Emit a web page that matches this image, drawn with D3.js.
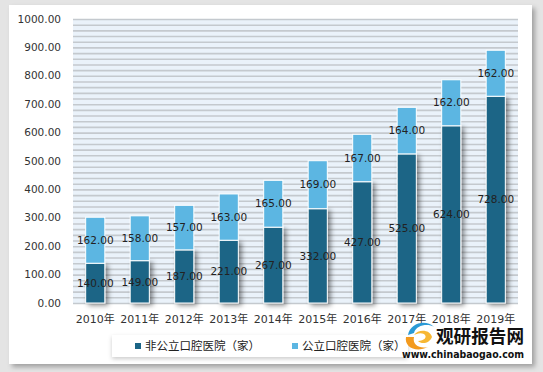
<!DOCTYPE html>
<html>
<head>
<meta charset="utf-8">
<script src="https://cdn.jsdelivr.net/npm/d3@7"></script>
<style>
  body { margin:0; padding:0; background:#fff; }
  text { font-family: "DejaVu Sans", "Noto Sans CJK SC", sans-serif; }
</style>
</head>
<body>
<div id="chart"></div>
<script>
var years = ["2010年","2011年","2012年","2013年","2014年","2015年","2016年","2017年","2018年","2019年"];
var privateVals = [140,149,187,221,267,332,427,525,624,728];
var publicVals  = [162,158,157,163,165,169,167,164,162,162];
var yTicks = [0,100,200,300,400,500,600,700,800,900,1000];
var seriesNames = ["非公立口腔医院（家）","公立口腔医院（家）"];
var colors = ["#1b6586","#5cb6e2"];

var width = 543, height = 372;

var svg = d3.select('#chart')
    .append('svg')
    .attr('width', width)
    .attr('height', height);

var defs = svg.append('defs');
var sh = defs.append('filter').attr('id','panelShadow')
    .attr('x','-5%').attr('y','-5%').attr('width','110%').attr('height','110%');
sh.append('feDropShadow').attr('dx',3).attr('dy',3).attr('stdDeviation',2.5)
    .attr('flood-color','#000').attr('flood-opacity',0.3);

var bs = defs.append('filter').attr('id','barShadow')
    .attr('x','-60%').attr('y','-20%').attr('width','220%').attr('height','140%');
bs.append('feDropShadow').attr('dx',3).attr('dy',2).attr('stdDeviation',2.5)
    .attr('flood-color','#000').attr('flood-opacity',0.45);

var ls = defs.append('filter').attr('id','legShadow')
    .attr('x','-5%').attr('y','-30%').attr('width','110%').attr('height','170%');
ls.append('feDropShadow').attr('dx',0).attr('dy',2).attr('stdDeviation',2)
    .attr('flood-color','#000').attr('flood-opacity',0.2);

// outer frame
svg.append('rect').attr('width',width).attr('height',height).attr('fill','#e4e4e4');
svg.append('rect').attr('x',9).attr('y',5).attr('width',523).attr('height',359)
    .attr('fill','#fff').attr('filter','url(#panelShadow)');

var x = d3.scaleBand()
    .domain(years)
    .range([73,518])
    .paddingInner(0.57)
    .paddingOuter(0.285);

var y = d3.scaleLinear()
    .domain([0,1000])
    .range([303,19]);

// striped plot background
svg.append('rect').attr('x',73).attr('y',y(1000)).attr('width',445).attr('height',y(0)-y(1000))
    .attr('fill','#eaf2fa');
svg.append('g').selectAll('line')
    .data(d3.range(0,1001,20))
    .enter().append('line')
    .attr('x1',73).attr('x2',518)
    .attr('y1',function(d){ return y(d) + 0.5 })
    .attr('y2',function(d){ return y(d) + 0.5 })
    .attr('stroke','#c4c9ce')
    .attr('stroke-width',1.6);

// y axis labels
svg.append('g').selectAll('text')
    .data(yTicks)
    .enter().append('text')
    .attr('x',61)
    .attr('y',function(d){ return y(d) })
    .attr('dy','0.35em')
    .attr('text-anchor','end')
    .attr('font-size','10.5px')
    .attr('fill','#333')
    .text(function(d){ return d3.format('.2f')(d) });

// bars
svg.append('g').selectAll('rect')
    .data(privateVals)
    .enter().append('rect')
    .attr('x',function(d,i){ return x(years[i]) })
    .attr('y',function(d){ return y(d) })
    .attr('width',x.bandwidth())
    .attr('height',function(d){ return y(0) - y(d) })
    .attr('fill',colors[0])
    .attr('stroke','#fff')
    .attr('stroke-width',1)
    .attr('filter','url(#barShadow)');

svg.append('g').selectAll('rect')
    .data(publicVals)
    .enter().append('rect')
    .attr('x',function(d,i){ return x(years[i]) })
    .attr('y',function(d,i){ return y(privateVals[i] + d) })
    .attr('width',x.bandwidth())
    .attr('height',function(d,i){ return y(privateVals[i]) - y(privateVals[i] + d) })
    .attr('fill',colors[1])
    .attr('stroke','#fff')
    .attr('stroke-width',1);

// value labels
svg.append('g').selectAll('text')
    .data(privateVals)
    .enter().append('text')
    .attr('x',function(d,i){ return x(years[i]) + x.bandwidth()/2 })
    .attr('y',function(d){ return y(d/2) })
    .attr('dy','0.35em')
    .attr('text-anchor','middle')
    .attr('font-size','10.5px')
    .attr('fill','#222')
    .text(function(d){ return d3.format('.2f')(d) });

svg.append('g').selectAll('text')
    .data(publicVals)
    .enter().append('text')
    .attr('x',function(d,i){ return x(years[i]) + x.bandwidth()/2 })
    .attr('y',function(d,i){ return y(privateVals[i] + d/2) })
    .attr('dy','0.35em')
    .attr('text-anchor','middle')
    .attr('font-size','10.5px')
    .attr('fill','#222')
    .text(function(d){ return d3.format('.2f')(d) });

// x labels
svg.append('g').selectAll('text')
    .data(years)
    .enter().append('text')
    .attr('x',function(d){ return x(d) + x.bandwidth()/2 })
    .attr('y',319)
    .attr('dy','0.35em')
    .attr('text-anchor','middle')
    .attr('font-size','11px')
    .attr('fill','#333')
    .text(function(d){ return d });

// legend
svg.append('rect').attr('x',112).attr('y',335).attr('width',296).attr('height',22)
    .attr('fill','#fff').attr('filter','url(#legShadow)');
var legX = [135,292];
var leg = svg.append('g').selectAll('g')
    .data(seriesNames)
    .enter().append('g')
    .attr('transform',function(d,i){ return 'translate(' + legX[i] + ',346)' });
leg.append('rect').attr('x',0).attr('y',-3).attr('width',6).attr('height',6)
    .attr('fill',function(d,i){ return colors[i] });
leg.append('text').attr('x',10).attr('dy','0.38em')
    .attr('font-size','11.5px').attr('fill','#222')
    .text(function(d){ return d });

// watermark
var wm = svg.append('g').attr('transform','translate(402,321)');
wm.append('path').attr('d','M6,14 C8,2 24,-2 32,6 C26,2 14,4 12,12 Z').attr('fill','#2a9ad6');
wm.append('path').attr('d','M4,16 C2,26 14,32 26,26 C18,28 10,24 12,16 Z').attr('fill','#f39a1e');
wm.append('path').attr('d','M12,14 C16,8 28,8 30,16 C28,22 20,24 16,20 C22,20 26,16 22,13 C18,11 14,13 12,14 Z').attr('fill','#f7b733');
wm.append('text').attr('x',34).attr('y',22).attr('font-size','18px').attr('font-weight','bold')
    .attr('textLength',88).attr('lengthAdjust','spacingAndGlyphs')
    .attr('fill','#111').style('font-family','"Noto Sans CJK SC"').text('观研报告网');
wm.append('text').attr('x',0).attr('y',37).attr('font-size','10.5px').attr('font-weight','bold')
    .attr('textLength',122).attr('lengthAdjust','spacingAndGlyphs')
    .attr('fill','#111').text('www.chinabaogao.com');
</script>
</body>
</html>
